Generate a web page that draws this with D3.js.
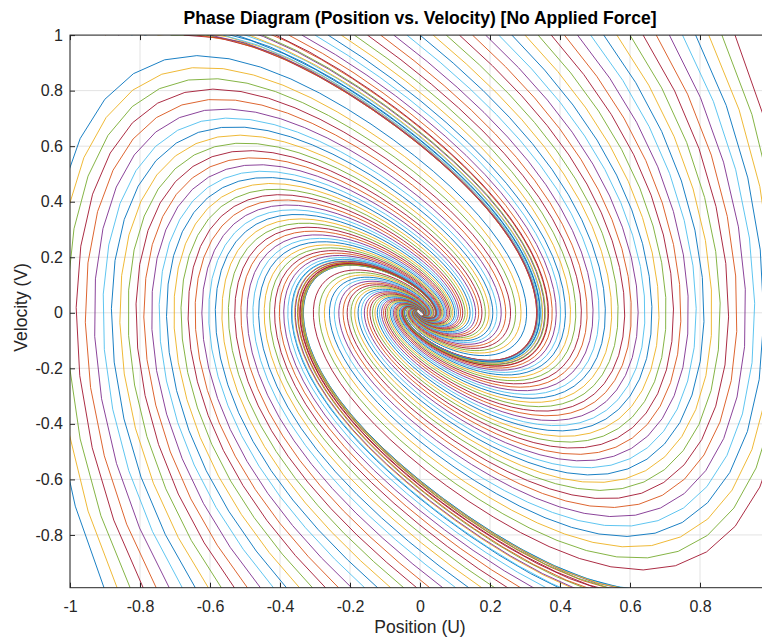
<!DOCTYPE html>
<html>
<head>
<meta charset="utf-8">
<title>Phase Diagram</title>
<script src="https://cdn.jsdelivr.net/npm/d3@7"></script>
<style>
  body { margin: 0; background: #fff; }
  svg { font-family: "Liberation Sans", Arial, Helvetica, sans-serif; }
</style>
</head>
<body>
<svg id="chart" width="762" height="637"></svg>
<script>
// --- data ---
// starting positions along the top (V = 1) and bottom (V = -1) edges
const startU = [-0.9, -0.8625, -0.825, -0.7875, -0.75, -0.7125, -0.675, -0.6375, -0.6,
  -0.5625, -0.525, -0.4875, -0.45, -0.4125, -0.375, -0.3375, -0.3, -0.2625, -0.225,
  -0.1875, -0.15, -0.1125, -0.075, -0.0375, 0, 0.0375, 0.075, 0.1125, 0.15, 0.1875,
  0.225, 0.2625, 0.3, 0.3375, 0.375, 0.4125, 0.45, 0.4875, 0.525, 0.5625, 0.6, 0.6375,
  0.675, 0.7125, 0.75, 0.7875, 0.825, 0.8625, 0.9];
const startV = [-1, 1];
// unforced oscillator u'' + c u' + k u + b u^3 = 0, coefficients estimated from the curves
const damping = 1.02, stiffness = 0.82, cubic = 1.65;
const tEnd = 9.5, outStep = 0.1;

// the axis runs to 1 on the right, but the picture is cut at about 0.97
const xTicks = [-1, -0.8, -0.6, -0.4, -0.2, 0, 0.2, 0.4, 0.6, 0.8];
const yTicks = [-0.8, -0.6, -0.4, -0.2, 0, 0.2, 0.4, 0.6, 0.8, 1];
const matlabColors = ["#0072BD", "#D95319", "#EDB120", "#7E2F8E", "#77AC30", "#4DBEEE", "#A2142F"];

// --- layout ---
const svg = d3.select("#chart");
const plotLeft = 70, plotRight = 770, plotTop = 35.1, plotBottom = 587.7;
const x = d3.scaleLinear().domain([-1, 1]).range([plotLeft, plotRight]);
const y = d3.scaleLinear().domain([-0.99, 1]).range([plotBottom, plotTop]);

/** Integrates one trajectory with RK4 and returns the sampled [u, v] points. */
function trajectory(u, v) {
  const f = (u, v) => [v, -damping * v - stiffness * u - cubic * u * u * u];
  const dt = 0.005, every = Math.round(outStep / dt);
  const pts = [[u, v]];
  const n = Math.round(tEnd / dt);
  for (let i = 1; i <= n; i++) {
    const k1 = f(u, v);
    const k2 = f(u + dt / 2 * k1[0], v + dt / 2 * k1[1]);
    const k3 = f(u + dt / 2 * k2[0], v + dt / 2 * k2[1]);
    const k4 = f(u + dt * k3[0], v + dt * k3[1]);
    u += dt / 6 * (k1[0] + 2 * k2[0] + 2 * k3[0] + k4[0]);
    v += dt / 6 * (k1[1] + 2 * k2[1] + 2 * k3[1] + k4[1]);
    if (i % every === 0) pts.push([u, v]);
  }
  return pts;
}

// plot order: for each start position the bottom edge first, then the top edge
const runs = [];
startU.forEach(u0 => startV.forEach(v0 => runs.push(trajectory(u0, v0))));

// grid lines behind the data
const grid = svg.append("g").attr("stroke", "#e3e3e3").attr("stroke-width", 1);
grid.selectAll(".gx").data(xTicks).join("line")
  .attr("x1", d => x(d)).attr("x2", d => x(d)).attr("y1", plotTop).attr("y2", plotBottom);
grid.selectAll(".gy").data(yTicks).join("line")
  .attr("x1", plotLeft).attr("x2", plotRight).attr("y1", d => y(d)).attr("y2", d => y(d));

svg.append("clipPath").attr("id", "plot-area").append("rect")
  .attr("x", plotLeft).attr("y", plotTop).attr("width", plotRight - plotLeft).attr("height", plotBottom - plotTop);

const line = d3.line().x(d => x(d[0])).y(d => y(d[1]));
svg.append("g").attr("clip-path", "url(#plot-area)")
  .selectAll("path").data(runs).join("path")
  .attr("d", line)
  .attr("fill", "none")
  .attr("stroke", (d, i) => matlabColors[i % 7])
  .attr("stroke-width", 0.9)
  .attr("stroke-linejoin", "round");

// axes: ticks pointing inward on all four sides, box on
const fmt = d => d === 0 ? "0" : String(d);
const axisColor = "#262626";
const styleAxis = g => {
  g.select(".domain").remove();
  g.selectAll(".tick line").attr("stroke", axisColor);
  g.selectAll(".tick text").attr("fill", axisColor).attr("font-size", 16);
};
svg.append("g").attr("transform", `translate(0,${plotBottom})`)
  .call(d3.axisBottom(x).tickValues(xTicks).tickFormat(fmt).tickSizeInner(-5).tickSizeOuter(0).tickPadding(13))
  .call(styleAxis);
svg.append("g").attr("transform", `translate(0,${plotTop})`)
  .call(d3.axisTop(x).tickValues(xTicks).tickFormat("").tickSizeInner(-5).tickSizeOuter(0))
  .call(styleAxis);
svg.append("g").attr("transform", `translate(${plotLeft},0)`)
  .call(d3.axisLeft(y).tickValues(yTicks).tickFormat(fmt).tickSizeInner(-5).tickSizeOuter(0).tickPadding(7))
  .call(styleAxis);
svg.append("rect")
  .attr("x", plotLeft).attr("y", plotTop).attr("width", plotRight - plotLeft).attr("height", plotBottom - plotTop)
  .attr("fill", "none").attr("stroke", axisColor).attr("stroke-width", 1);

// labels
svg.append("text").attr("x", (plotLeft + plotRight) / 2).attr("y", 24)
  .attr("text-anchor", "middle").attr("font-size", 17.5).attr("font-weight", "bold").attr("fill", "#000")
  .text("Phase Diagram (Position vs. Velocity) [No Applied Force]");
svg.append("text").attr("x", (plotLeft + plotRight) / 2).attr("y", 633)
  .attr("text-anchor", "middle").attr("font-size", 17.5).attr("fill", axisColor)
  .text("Position (U)");
svg.append("text").attr("transform", `translate(27,${(plotTop + plotBottom) / 2 - 4}) rotate(-90)`)
  .attr("text-anchor", "middle").attr("font-size", 17.5).attr("fill", axisColor)
  .text("Velocity (V)");
</script>
</body>
</html>
